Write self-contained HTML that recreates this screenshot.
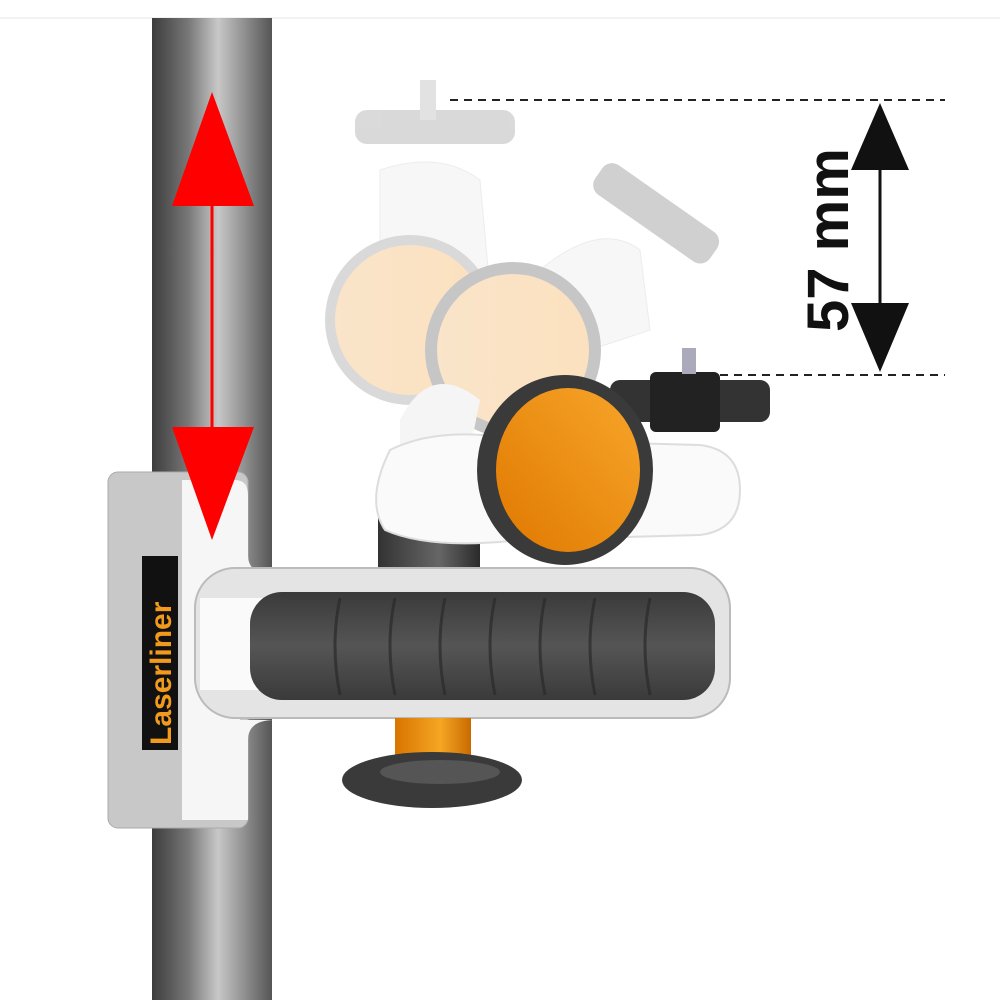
<!DOCTYPE html>
<html><head><meta charset="utf-8"><style>html,body{margin:0;padding:0;background:#fff}svg{display:block}</style></head>
<body>
<svg width="1000" height="1000" viewBox="0 0 1000 1000" xmlns="http://www.w3.org/2000/svg">
<defs>
<linearGradient id="pole" x1="0" x2="1" y1="0" y2="0">
<stop offset="0" stop-color="#3c3c3c"/><stop offset="0.3" stop-color="#777"/><stop offset="0.55" stop-color="#c8c8c8"/><stop offset="0.8" stop-color="#888"/><stop offset="1" stop-color="#555"/></linearGradient>
<linearGradient id="rod" x1="0" x2="1"><stop offset="0" stop-color="#333"/><stop offset="0.6" stop-color="#666"/><stop offset="1" stop-color="#2a2a2a"/></linearGradient>
<linearGradient id="org" x1="0" x2="1" y1="1" y2="0"><stop offset="0" stop-color="#e07800"/><stop offset="1" stop-color="#f7a62a"/></linearGradient>
<linearGradient id="orgc" x1="0" x2="1"><stop offset="0" stop-color="#d87500"/><stop offset="0.6" stop-color="#f5a623"/><stop offset="1" stop-color="#c86a00"/></linearGradient>
<linearGradient id="grip" x1="0" x2="0" y1="0" y2="1"><stop offset="0" stop-color="#3a3a3a"/><stop offset="0.5" stop-color="#555"/><stop offset="1" stop-color="#3a3a3a"/></linearGradient>
<linearGradient id="ghostorg" x1="0" x2="1"><stop offset="0" stop-color="#f6cfa0"/><stop offset="1" stop-color="#f9c98a"/></linearGradient>
</defs>
<line x1="0" y1="18" x2="1000" y2="18" stroke="#e6e6e6" stroke-width="1"/>
<!-- pole -->
<rect x="152" y="18" width="120" height="982" fill="url(#pole)"/>
<!-- ghost heads -->
<g opacity="0.55">
<rect x="355" y="110" width="160" height="34" rx="12" fill="#bbb"/>
<rect x="420" y="80" width="16" height="40" fill="#ccc"/>
<path d="M380 170 Q440 150 480 180 L490 290 L380 300 Z" fill="#f2f2f2" stroke="#ddd"/>
<circle cx="410" cy="320" r="80" fill="url(#ghostorg)" stroke="#bbb" stroke-width="10"/>
<path d="M540 270 Q600 220 640 250 L650 330 L560 360 Z" fill="#f2f2f2" stroke="#ddd"/>
<g transform="rotate(35 655 215)"><rect x="585" y="195" width="140" height="36" rx="12" fill="#aaa"/></g>
<circle cx="513" cy="350" r="82" fill="url(#ghostorg)" stroke="#999" stroke-width="12"/>
<path d="M400 420 Q430 360 480 400 L470 450 L400 460Z" fill="#eee"/>
</g>
<!-- black rod -->
<rect x="378" y="500" width="102" height="80" fill="url(#rod)"/>
<!-- main head -->
<path d="M390 450 Q440 425 520 440 L700 445 Q740 450 740 490 Q740 530 700 535 L520 540 Q430 550 385 530 Q365 500 390 450Z" fill="#fafafa" stroke="#ddd" stroke-width="2"/>
<rect x="610" y="380" width="160" height="42" rx="10" fill="#333"/>
<rect x="650" y="372" width="70" height="60" rx="6" fill="#222"/>
<rect x="682" y="348" width="14" height="26" fill="#aab"/>
<ellipse cx="565" cy="470" rx="88" ry="95" fill="#3a3a3a"/>
<ellipse cx="568" cy="470" rx="72" ry="82" fill="url(#org)"/>
<!-- bracket -->
<rect x="108" y="472" width="140" height="356" rx="10" fill="#c8c8c8" stroke="#aaa"/>
<path d="M182 480 L235 480 Q248 480 248 495 L248 555 Q248 575 275 575 L240 575 L240 720 L275 720 Q248 720 248 740 L248 820 L182 820 Z" fill="#f6f6f6"/>
<rect x="142" y="556" width="36" height="194" fill="#111"/>
<text transform="translate(171 745) rotate(-90)" font-family="Liberation Sans, sans-serif" font-weight="bold" font-size="30" fill="#f29a1c">Laserliner</text>
<!-- arm -->
<rect x="195" y="568" width="535" height="150" rx="40" fill="#e4e4e4" stroke="#bbb" stroke-width="2"/>
<rect x="200" y="598" width="70" height="92" fill="#fafafa"/>
<rect x="250" y="592" width="465" height="108" rx="32" fill="url(#grip)"/>
<g stroke="#2a2a2a" stroke-width="3" fill="none" opacity="0.7">
<path d="M340 598 Q330 645 340 695"/><path d="M395 598 Q385 645 395 695"/><path d="M445 598 Q435 645 445 695"/><path d="M495 598 Q485 645 495 695"/><path d="M545 598 Q535 645 545 695"/><path d="M595 598 Q585 645 595 695"/><path d="M650 598 Q640 645 650 695"/>
</g>
<!-- bottom knob -->
<rect x="395" y="718" width="76" height="80" fill="url(#orgc)"/>
<ellipse cx="432" cy="780" rx="90" ry="28" fill="#3a3a3a"/>
<ellipse cx="440" cy="772" rx="60" ry="12" fill="#555"/>
<!-- red arrow -->
<line x1="212" y1="200" x2="212" y2="430" stroke="#f00" stroke-width="3"/>
<polygon points="212,92 172,206 254,206" fill="#f00"/>
<polygon points="172,427 254,427 212,540" fill="#f00"/>
<!-- dimension -->
<line x1="450" y1="100" x2="945" y2="100" stroke="#222" stroke-width="2" stroke-dasharray="8,6"/>
<line x1="720" y1="375" x2="945" y2="375" stroke="#222" stroke-width="2" stroke-dasharray="8,6"/>
<line x1="880" y1="165" x2="880" y2="310" stroke="#111" stroke-width="3"/>
<polygon points="880,103 851,170 909,170" fill="#111"/>
<polygon points="851,303 909,303 880,372" fill="#111"/>
<text transform="translate(848 332) rotate(-90)" font-family="Liberation Sans, sans-serif" font-weight="bold" font-size="58" fill="#111">57 mm</text>
</svg>
</body></html>
